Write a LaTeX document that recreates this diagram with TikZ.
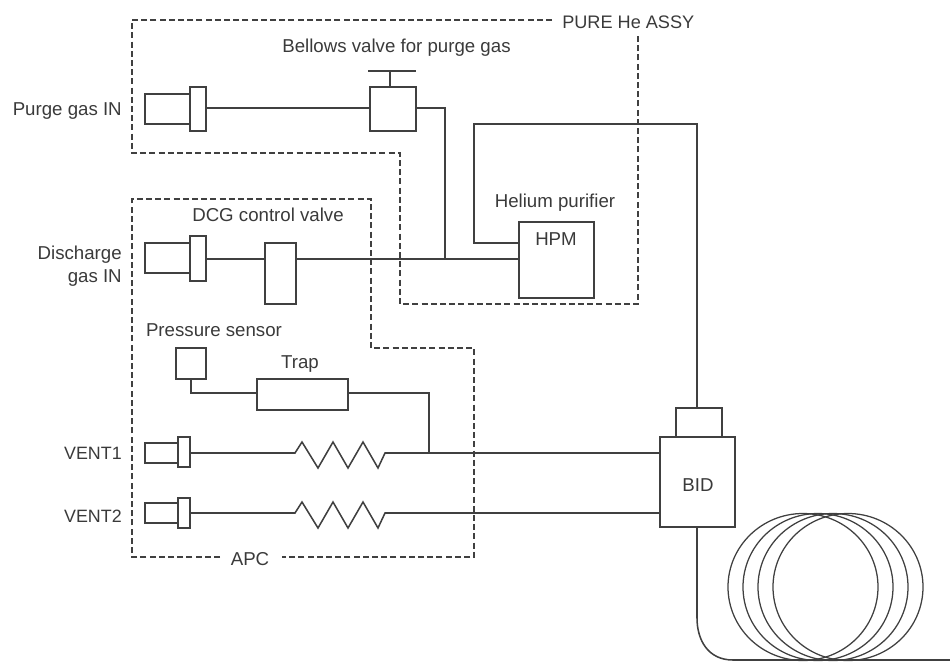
\documentclass[tikz,border=0pt]{standalone}
\usepackage{fontspec}
\setmainfont{Liberation Sans}
\usetikzlibrary{calc}
\definecolor{ink}{HTML}{404040}
\definecolor{txt}{HTML}{3A3A3A}
\tikzset{
  x=0.75pt,y=-0.75pt,
  part/.style={draw=ink,line width=1.15pt,fill=white,inner sep=0pt,outer sep=0pt},
  pipe/.style={draw=ink,line width=1.15pt,line join=miter},
  assy/.style={draw=ink,line width=1pt,dash pattern=on 4.5pt off 2.4pt},
  lab/.style={text=txt,inner sep=0pt,font=\fontsize{14pt}{17.2pt}\selectfont,align=center},
  coil/.style={draw=ink,line width=0.95pt}
}
\newcommand{\pbox}[5]{%
  \pgfmathsetmacro{\pw}{(#4-#2)*0.75}%
  \pgfmathsetmacro{\ph}{(#5-#3)*0.75}%
  \node[part,minimum width=\pw pt,minimum height=\ph pt] (#1) at ({(#2+#4)/2},{(#3+#5)/2}) {};%
}
\begin{document}
\begin{tikzpicture}
\useasboundingbox (0,0) rectangle (950,662);
% assembly outlines
\coordinate (heA) at (552,20);
\coordinate (heB) at (132,20);
\coordinate (heC) at (132,153);
\coordinate (heD) at (400,153);
\coordinate (heE) at (400,304);
\coordinate (heF) at (638,304);
\coordinate (heG) at (638,33);
\draw[assy] (heA) -- (heB) -- (heC) -- (heD) -- (heE) -- (heF) -- (heG);
\coordinate (apA) at (220,557);
\coordinate (apB) at (132,557);
\coordinate (apC) at (132,199);
\coordinate (apD) at (371,199);
\coordinate (apE) at (371,348);
\coordinate (apF) at (474,348);
\coordinate (apG) at (474,557);
\coordinate (apH) at (282,557);
\draw[assy] (apA) -- (apB) -- (apC) -- (apD) -- (apE) -- (apF) -- (apG) -- (apH);
% parts
\pbox{pb}{145}{94}{190}{124}
\pbox{pf}{190}{87}{206}{131}
\pbox{bv}{370}{87}{416}{131}
\coordinate (stemtop) at (390,71);
\coordinate (barL) at (368,71);
\coordinate (barR) at (416,71);
\pbox{db}{145}{243}{190}{273}
\pbox{df}{190}{236}{206}{281}
\pbox{dcg}{265}{243}{296}{304}
\pbox{hpm}{519}{222}{594}{298}
\pbox{ps}{176}{348}{206}{379}
\pbox{trap}{257}{379}{348}{410}
\pbox{vb1}{145}{443}{178}{463}
\pbox{vf1}{178}{437}{190}{467}
\pbox{vb2}{145}{503}{178}{523}
\pbox{vf2}{178}{498}{190}{528}
\pbox{bidtop}{676}{408}{722}{437}
\pbox{bid}{660}{437}{735}{527}
% labels
\node[lab,anchor=west,font=\fontsize{13.6pt}{16pt}\selectfont] (helabel) at (562,22) {PURE He ASSY};
\node[lab] (apclabel) at (250,559) {APC};
\node[lab,anchor=east] (l1) at (122,111) {Purge gas IN};
\node[lab,align=right,anchor=east] (l2) at (122,266.5) {Discharge\\gas IN};
\node[lab,anchor=east,font=\fontsize{13.4pt}{16pt}\selectfont] (l3) at (122,453) {VENT1};
\node[lab,anchor=east,font=\fontsize{13.4pt}{16pt}\selectfont] (l4) at (122,516) {VENT2};
\node[lab] (l5) at (396.5,48) {Bellows valve for purge gas};
\node[lab] (l6) at (268,215) {DCG control valve};
\node[lab] (l7) at (555,203) {Helium purifier};
\node[lab] (l8) at (214,330) {Pressure sensor};
\node[lab] (l9) at (300,364) {Trap};
\node[lab] (hpmlabel) at (556,239) {HPM};
\node[lab] (bidlabel) at (698,485) {BID};
% connectors
\coordinate (stemfoot) at (390,87);
\draw[pipe] (stemfoot) -- (stemtop);
\draw[pipe] (barL) -- (barR);
\draw[pipe] (pf.east |- 0,108) -- (bv.west |- 0,108);
\coordinate (jn) at (445,259);
\draw[pipe] (bv.east |- 0,108) -| (jn);
\draw[pipe] (df.east |- 0,259) -- (dcg.west |- 0,259);
\draw[pipe] (dcg.east |- 0,259) -- (jn) -- (hpm.west |- jn);
\draw[pipe] (hpm.west |- 0,243) -- (474,243) -- (474,124) -- (697,124) -- (697,408);
\coordinate (psfoot) at (191,379);
\draw[pipe] (psfoot) |- (trap.west |- 0,393);
\coordinate (tee) at (429,453);
\draw[pipe] (trap.east |- 0,393) -| (tee);
\draw[pipe] (vf1.east |- tee) -- (295,453) -- (302,442) -- (318,468) -- (333,442) -- (348,468) -- (363,442) -- (378,468) -- (385,453) -- (tee) -- (bid.west |- tee);
\draw[pipe] (vf2.east |- 0,513) -- (295,513) -- (302,502) -- (318,528) -- (333,502) -- (348,528) -- (363,502) -- (378,528) -- (385,513) -- (bid.west |- 0,513);
% column
\coordinate (coilend) at (950,660);
\draw[pipe] (697,527) -- (697,618) .. controls (697,640) and (708,660) .. (733,660) -- (coilend);
\foreach \cx in {803,818,833,848}
  \draw[coil] (\cx,587) ellipse [x radius=75,y radius=73.5];
\end{tikzpicture}
\end{document}
